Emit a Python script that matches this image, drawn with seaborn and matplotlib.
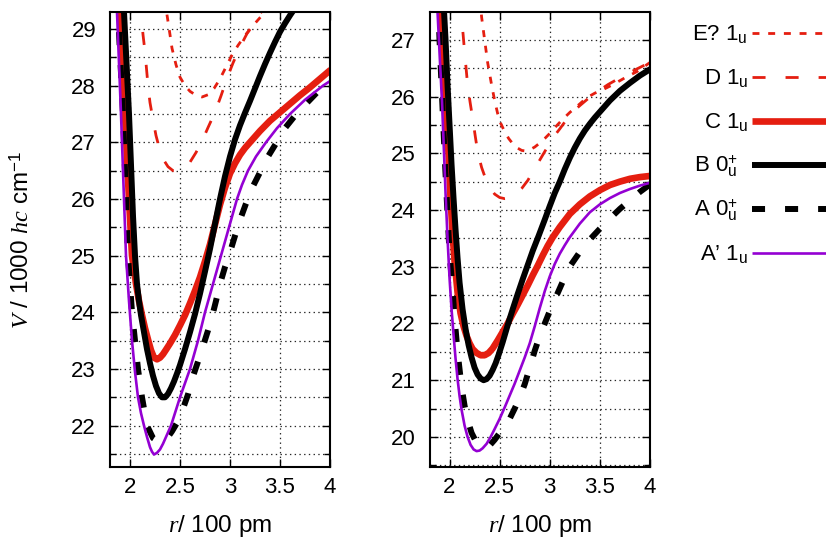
import numpy as np
import pandas as pd
import matplotlib
matplotlib.use("Agg")
import matplotlib.pyplot as plt
import seaborn as sns
from matplotlib.lines import Line2D
from matplotlib.ticker import MultipleLocator, FuncFormatter

sns.set_theme(style="white")
plt.rcParams['font.family'] = ['Liberation Sans', 'DejaVu Sans']
plt.rcParams['mathtext.fontset'] = 'custom'
plt.rcParams['mathtext.rm'] = 'Liberation Sans'
plt.rcParams['mathtext.it'] = 'Liberation Serif:italic'
plt.rcParams['mathtext.bf'] = 'Liberation Sans:bold'
plt.rcParams['lines.scale_dashes'] = False

# ---------------- data: left panel ----------------
rE_L = [2.35, 2.37, 2.40, 2.42, 2.46, 2.50, 2.55, 2.60, 2.66, 2.72, 2.78, 2.84, 2.90, 2.96, 3.02, 3.08,
        3.14, 3.21, 3.28, 3.35, 3.42]
VE_L = [29.6, 29.25, 28.9, 28.66, 28.37, 28.15, 28.0, 27.9, 27.83, 27.8, 27.84, 27.95, 28.12, 28.33, 28.54,
        28.71, 28.86, 29.02, 29.16, 29.3, 29.45]

rD_L = [2.09, 2.11, 2.13, 2.15, 2.18, 2.20, 2.23, 2.26, 2.30, 2.34, 2.38, 2.43, 2.49, 2.55, 2.60, 2.66,
        2.72, 2.78, 2.85, 2.91, 2.97, 3.03, 3.10, 3.17, 3.25, 3.33, 3.40]
VD_L = [30.0, 29.3, 28.9, 28.6, 28.0, 27.7, 27.4, 27.12, 26.85, 26.68, 26.57, 26.5, 26.49, 26.55, 26.65, 26.82,
        27.02, 27.26, 27.53, 27.82, 28.13, 28.4, 28.68, 28.92, 29.12, 29.35, 29.6]

rC_L = [1.86, 1.90, 1.925, 1.95, 1.97, 1.99, 2.005, 2.02, 2.04, 2.06, 2.09, 2.12, 2.15, 2.18, 2.21, 2.24,
        2.27, 2.30, 2.33, 2.36, 2.40, 2.45, 2.50, 2.55, 2.60, 2.65, 2.70, 2.75, 2.80, 2.85, 2.90, 2.95,
        3.00, 3.05, 3.10, 3.15, 3.20, 3.30, 3.40, 3.50, 3.60, 3.70, 3.80, 3.90, 4.00]
VC_L = [30.5, 29.3, 28.4, 27.5, 26.7, 26.0, 25.5, 25.0, 24.75, 24.5, 24.2, 23.95, 23.72, 23.52, 23.33, 23.2,
        23.17, 23.2, 23.26, 23.34, 23.45, 23.6, 23.77, 23.95, 24.16, 24.38, 24.62, 24.9, 25.2, 25.55, 25.9, 26.2,
        26.45, 26.63, 26.78, 26.9, 27.0, 27.2, 27.38, 27.53, 27.68, 27.83, 27.97, 28.12, 28.27]

rB_L = [1.90, 1.94, 1.965, 1.99, 2.01, 2.03, 2.05, 2.07, 2.09, 2.11, 2.14, 2.17, 2.20, 2.23, 2.26, 2.29,
        2.32, 2.35, 2.38, 2.41, 2.44, 2.47, 2.50, 2.55, 2.60, 2.65, 2.70, 2.75, 2.80, 2.85, 2.90, 2.95,
        3.00, 3.05, 3.10, 3.15, 3.20, 3.25, 3.30, 3.35, 3.40, 3.45, 3.50, 3.55, 3.60, 3.65, 3.70]
VB_L = [30.5, 29.3, 28.4, 27.5, 26.6, 25.7, 25.0, 24.5, 24.2, 23.95, 23.65, 23.35, 23.1, 22.88, 22.7, 22.57,
        22.5, 22.5, 22.56, 22.66, 22.78, 22.92, 23.07, 23.35, 23.65, 23.97, 24.33, 24.72, 25.12, 25.56, 26.0, 26.4,
        26.75, 27.05, 27.3, 27.52, 27.73, 27.95, 28.17, 28.38, 28.58, 28.77, 28.95, 29.1, 29.24, 29.37, 29.5]

rA_L = [1.85, 1.88, 1.93, 1.96, 1.98, 2.02, 2.08, 2.12, 2.17, 2.23, 2.30, 2.36, 2.42, 2.47, 2.52, 2.58,
        2.63, 2.68, 2.73, 2.78, 2.82, 2.86, 2.90, 2.95, 3.00, 3.05, 3.10, 3.16, 3.22, 3.30, 3.37, 3.46,
        3.55, 3.65, 3.75, 3.87, 4.00]
VA_L = [30.5, 29.3, 27.5, 26.0, 25.0, 24.0, 23.0, 22.5, 22.0, 21.78, 21.7, 21.75, 21.9, 22.05, 22.25, 22.55,
        22.87, 23.13, 23.4, 23.68, 23.92, 24.2, 24.5, 24.8, 25.06, 25.35, 25.63, 25.92, 26.19, 26.47, 26.72, 26.98,
        27.25, 27.47, 27.66, 27.88, 28.1]

rP_L = [1.84, 1.87, 1.91, 1.94, 1.96, 1.99, 2.02, 2.05, 2.08, 2.11, 2.14, 2.17, 2.20, 2.22, 2.24, 2.27,
        2.30, 2.33, 2.36, 2.41, 2.50, 2.60, 2.68, 2.75, 2.83, 2.91, 2.99, 3.07, 3.12, 3.18, 3.26, 3.36,
        3.47, 3.60, 3.75, 3.93, 4.00]
VP_L = [30.5, 29.3, 27.5, 26.0, 25.0, 24.2, 23.5, 22.95, 22.5, 22.22, 22.0, 21.8, 21.62, 21.54, 21.49, 21.52,
        21.58, 21.68, 21.8, 22.0, 22.5, 23.0, 23.5, 24.0, 24.5, 25.0, 25.5, 26.0, 26.25, 26.5, 26.75, 27.0,
        27.25, 27.5, 27.75, 28.0, 28.08]

# ---------------- data: right panel ----------------
rE_R = [2.30, 2.32, 2.335, 2.35, 2.365, 2.38, 2.40, 2.42, 2.45, 2.48, 2.51, 2.55, 2.59, 2.63, 2.68, 2.72,
        2.76, 2.80, 2.85, 2.90, 2.95, 3.00, 3.06, 3.13, 3.20, 3.28, 3.37, 3.45, 3.54, 3.63, 3.75, 3.87, 4.00]
VE_R = [27.8, 27.4, 27.2, 27.0, 26.8, 26.6, 26.4, 26.2, 25.93, 25.7, 25.53, 25.38, 25.26, 25.17, 25.09, 25.05,
        25.04, 25.06, 25.11, 25.18, 25.26, 25.35, 25.47, 25.6, 25.72, 25.84, 25.98, 26.06, 26.13, 26.21, 26.33,
        26.44, 26.6]

rD_R = [2.10, 2.12, 2.135, 2.15, 2.165, 2.18, 2.205, 2.23, 2.255, 2.28, 2.32, 2.36, 2.40, 2.45, 2.50, 2.55,
        2.60, 2.66, 2.72, 2.78, 2.83, 2.88, 2.93, 2.98, 3.03, 3.10, 3.17, 3.23, 3.30, 3.38, 3.47, 3.58, 3.70,
        3.85, 4.00]
VD_R = [28.0, 27.39, 27.1, 26.79, 26.5, 26.21, 25.9, 25.62, 25.32, 25.03, 24.75, 24.55, 24.4, 24.28, 24.22, 24.2,
        24.21, 24.27, 24.38, 24.52, 24.67, 24.82, 24.97, 25.12, 25.27, 25.43, 25.6, 25.73, 25.84, 25.96, 26.08,
        26.21, 26.33, 26.47, 26.6]

rC_R = [1.90, 1.93, 1.955, 1.975, 1.995, 2.01, 2.03, 2.05, 2.08, 2.11, 2.14, 2.17, 2.20, 2.23, 2.27, 2.31,
        2.35, 2.39, 2.43, 2.48, 2.53, 2.58, 2.63, 2.68, 2.73, 2.78, 2.83, 2.88, 2.93, 2.98, 3.03, 3.10, 3.20,
        3.30, 3.40, 3.50, 3.60, 3.70, 3.80, 3.90, 4.00]
VC_R = [28.0, 27.0, 26.2, 25.5, 24.8, 24.2, 23.6, 23.1, 22.55, 22.18, 21.95, 21.78, 21.65, 21.55, 21.48, 21.44,
        21.44, 21.48, 21.56, 21.7, 21.85, 22.0, 22.17, 22.33, 22.5, 22.67, 22.85, 23.02, 23.2, 23.37, 23.52, 23.7,
        23.93, 24.1, 24.24, 24.35, 24.44, 24.5, 24.55, 24.58, 24.6]

rB_R = [1.93, 1.96, 1.98, 2.00, 2.02, 2.04, 2.06, 2.08, 2.10, 2.13, 2.16, 2.19, 2.22, 2.25, 2.28, 2.31,
        2.34, 2.37, 2.40, 2.43, 2.46, 2.49, 2.53, 2.58, 2.63, 2.68, 2.73, 2.78, 2.83, 2.89, 2.95, 3.00, 3.05,
        3.10, 3.15, 3.20, 3.25, 3.30, 3.35, 3.40, 3.45, 3.50, 3.60, 3.70, 3.80, 3.90, 4.00]
VB_R = [28.0, 27.0, 26.2, 25.5, 24.8, 24.2, 23.65, 23.15, 22.72, 22.25, 21.9, 21.62, 21.4, 21.22, 21.1, 21.03,
        21.0, 21.02, 21.08, 21.18, 21.3, 21.45, 21.67, 21.97, 22.25, 22.52, 22.78, 23.03, 23.28, 23.55, 23.83,
        24.07, 24.3, 24.5, 24.72, 24.92, 25.1, 25.26, 25.4, 25.52, 25.63, 25.73, 25.93, 26.1, 26.24, 26.37, 26.48]

rA_R = [1.87, 1.90, 1.925, 1.95, 1.975, 2.00, 2.03, 2.05, 2.08, 2.12, 2.15, 2.18, 2.22, 2.26, 2.30, 2.35,
        2.40, 2.45, 2.50, 2.55, 2.60, 2.65, 2.70, 2.75, 2.80, 2.85, 2.90, 2.95, 3.00, 3.07, 3.14, 3.21, 3.30,
        3.40, 3.50, 3.60, 3.70, 3.80, 3.90, 4.00]
VA_R = [28.5, 27.0, 26.0, 25.0, 24.1, 23.24, 22.6, 22.1, 21.5, 20.88, 20.55, 20.3, 20.07, 19.93, 19.85, 19.82,
        19.85, 19.95, 20.07, 20.18, 20.32, 20.5, 20.7, 20.93, 21.22, 21.52, 21.78, 22.0, 22.22, 22.5, 22.78,
        23.03, 23.26, 23.48, 23.67, 23.85, 24.02, 24.17, 24.32, 24.45]

rP_R = [1.85, 1.88, 1.905, 1.925, 1.945, 1.96, 1.98, 2.00, 2.02, 2.04, 2.06, 2.08, 2.10, 2.12, 2.15, 2.18,
        2.21, 2.24, 2.27, 2.30, 2.33, 2.37, 2.41, 2.45, 2.50, 2.55, 2.60, 2.65, 2.70, 2.75, 2.80, 2.85, 2.90,
        2.95, 3.00, 3.05, 3.10, 3.15, 3.20, 3.30, 3.40, 3.50, 3.60, 3.70, 3.80, 3.90, 4.00]
VP_R = [28.5, 27.5, 26.6, 25.9, 25.0, 24.3, 23.5, 22.8, 22.25, 21.8, 21.38, 21.02, 20.72, 20.48, 20.2, 20.0,
        19.86, 19.78, 19.75, 19.76, 19.8, 19.88, 20.0, 20.14, 20.32, 20.52, 20.73, 20.94, 21.17, 21.4, 21.65,
        21.95, 22.27, 22.57, 22.83, 23.05, 23.23, 23.38, 23.52, 23.76, 23.96, 24.1, 24.21, 24.3, 24.37, 24.43,
        24.48]

labels = ["E? 1$_\\mathregular{u}$", "D 1$_\\mathregular{u}$", "C 1$_\\mathregular{u}$",
          "B 0$_\\mathregular{u}^\\mathregular{+}$", "A 0$_\\mathregular{u}^\\mathregular{+}$",
          "A\u2019 1$_\\mathregular{u}$"]
xticks = [2, 2.5, 3, 3.5, 4]

RED = '#e51e10'
PURPLE = '#9400d3'
styles = [
    dict(color=RED, linewidth=2.0, linestyle=(0, (5.0, 6.3))),
    dict(color=RED, linewidth=2.0, linestyle=(0, (9.4, 14.4))),
    dict(color=RED, linewidth=4.8, linestyle='-'),
    dict(color='black', linewidth=4.3, linestyle='-'),
    dict(color='black', linewidth=4.3, linestyle=(0, (9.4, 14.4))),
    dict(color=PURPLE, linewidth=1.9, linestyle='-'),
]

left_curves = [(rE_L, VE_L), (rD_L, VD_L), (rC_L, VC_L), (rB_L, VB_L), (rA_L, VA_L), (rP_L, VP_L)]
right_curves = [(rE_R, VE_R), (rD_R, VD_R), (rC_R, VC_R), (rB_R, VB_R), (rA_R, VA_R), (rP_R, VP_R)]

W, H = 826, 539
fig = plt.figure(figsize=(W / 100, H / 100), dpi=100, facecolor='white')
axL = fig.add_axes([110 / W, 1 - 467 / H, 220 / W, 455 / H])
axR = fig.add_axes([429.5 / W, 1 - 467 / H, 220.5 / W, 455 / H])

for ax, curves, ylim in [(axL, left_curves, (21.27, 29.3)), (axR, right_curves, (19.47, 27.49))]:
    for (r, v), st in zip(curves, styles):
        sns.lineplot(x=r, y=v, ax=ax, sort=False, estimator=None,
                     solid_joinstyle='round', **st)
    ax.set_xlim(1.8, 4.0)
    ax.set_ylim(*ylim)
    ax.set_xticks(xticks)
    ax.xaxis.set_major_formatter(FuncFormatter(lambda v, p: f"{v:g}"))
    ax.yaxis.set_major_locator(MultipleLocator(1))
    ax.yaxis.set_minor_locator(MultipleLocator(0.5))
    ax.grid(which='both', axis='y', linestyle=(0, (1.0, 2.4)), linewidth=0.9, color='0.15')
    ax.grid(which='major', axis='x', linestyle=(0, (1.0, 2.4)), linewidth=0.9, color='0.15')
    ax.set_axisbelow(True)
    ax.tick_params(which='both', direction='in', top=True, right=True, bottom=True, left=True,
                   width=1.0, color='black', labelsize=16, labelcolor='black')
    ax.tick_params(which='major', length=6)
    ax.tick_params(which='minor', length=4)
    ax.tick_params(axis='y', pad=10)
    ax.tick_params(axis='x', pad=7)
    for s in ax.spines.values():
        s.set_color('black')
        s.set_linewidth(1.5)
        s.set_visible(True)
    ax.set_facecolor('white')
    ax.set_xlabel("$r$/ 100 pm", fontsize=17.5, color='black')
    ax.xaxis.set_label_coords(0.5, -0.102)
    ax.set_ylabel("")

axL.set_ylabel("$V$ / 1000 $hc$ cm$^{-1}$", fontsize=17.5, color='black')
axL.yaxis.set_label_coords(-0.345, 0.5)

# legend (right side, drawn manually, text right-justified as in gnuplot)
leg_y = [33, 77, 121, 165, 209, 253]
leg_txt_right = [748, 748, 748, 738, 738, 748]
for lab, st, yy, xr in zip(labels, styles, leg_y, leg_txt_right):
    fig.text(xr / W, 1 - (yy + 7) / H, lab, ha='right', va='baseline', fontsize=16, color='black')
    fig.add_artist(Line2D([752 / W, 840 / W], [1 - yy / H, 1 - yy / H], transform=fig.transFigure,
                          color=st['color'], linewidth=st['linewidth'], linestyle=st['linestyle'],
                          solid_capstyle='butt', dash_capstyle='butt'))

fig.savefig("out.png", dpi=100, facecolor='white')
